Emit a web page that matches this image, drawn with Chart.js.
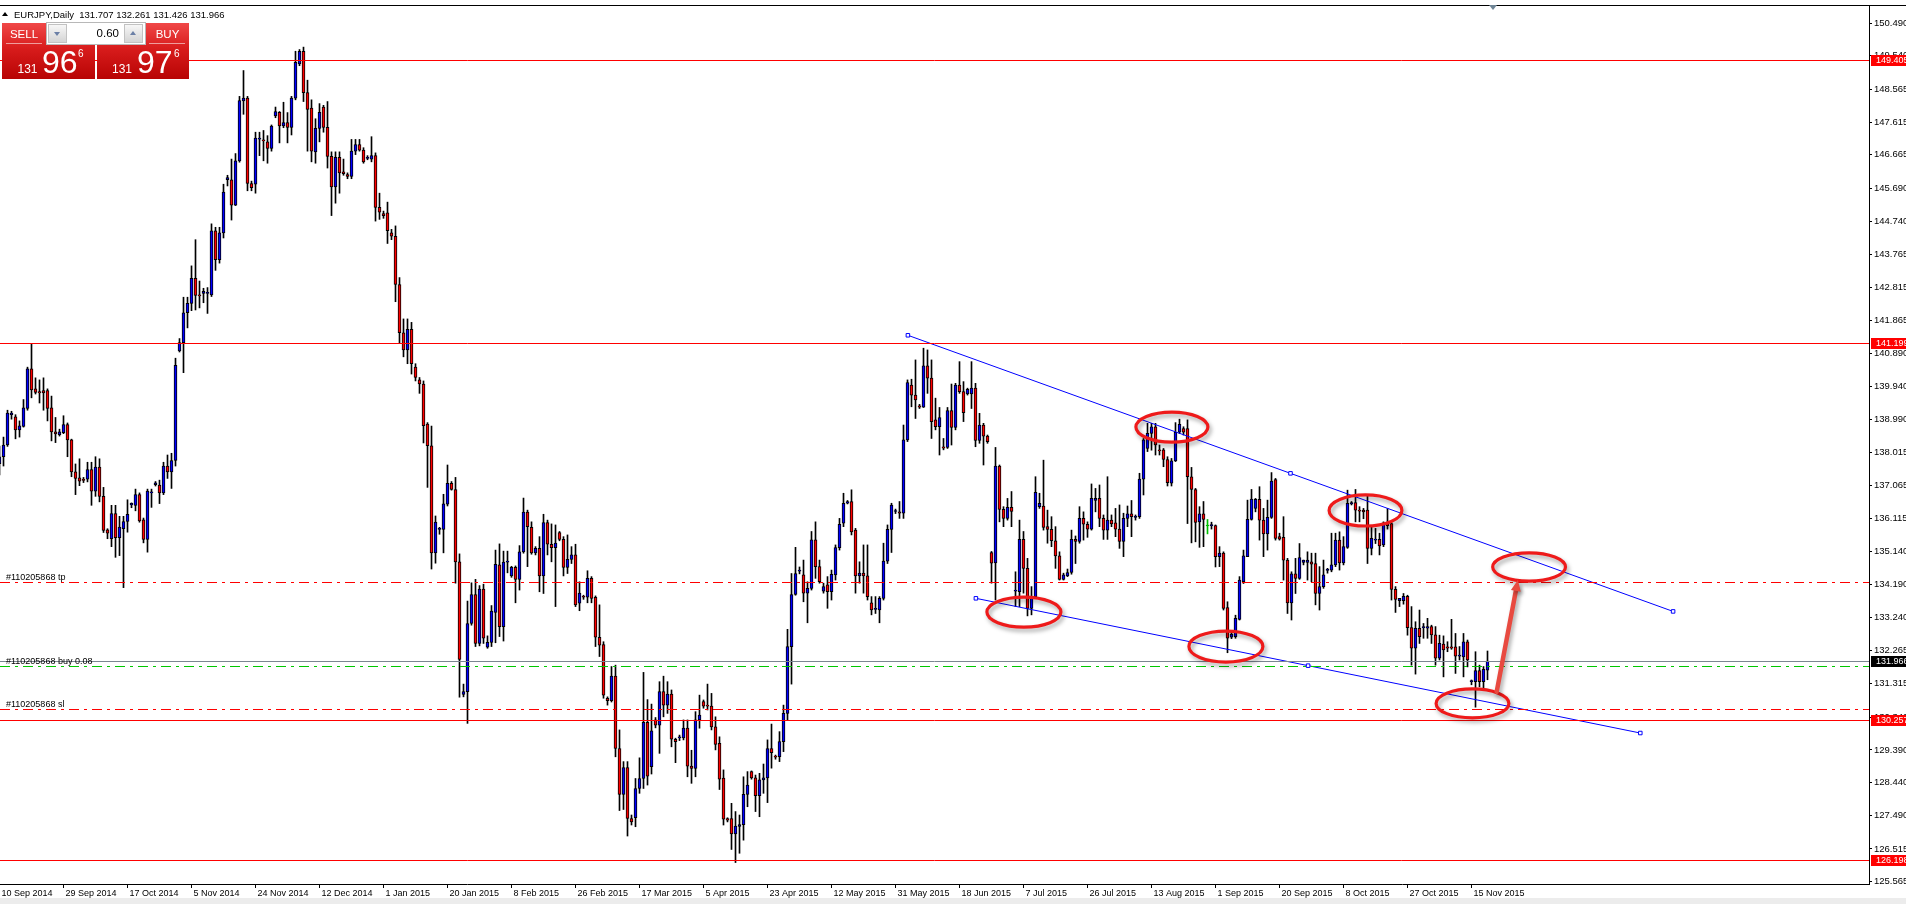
<!DOCTYPE html>
<html>
<head>
<meta charset="utf-8">
<title>EURJPY, Daily</title>
<script src="https://cdn.jsdelivr.net/npm/chart.js@4.4.1/dist/chart.umd.min.js"></script>
<style>
  html, body { margin:0; padding:0; background:#fff; }
  #wrap { position:relative; width:1906px; height:904px; overflow:hidden; font-family:'Liberation Sans', Arial, sans-serif; }
  #chart { position:absolute; left:0; top:0; }
  .abs { position:absolute; white-space:pre; }
  .tri-up { width:0; height:0; border-left:3px solid transparent; border-right:3px solid transparent; border-bottom:4px solid #000; }
  .btn { background:linear-gradient(#f7f7f7,#d4d4d4); border:1px solid #c2c2c2; box-sizing:border-box; }
  .box { background:linear-gradient(#f04848 0%, #d81c1c 45%, #b80404 100%); }
  .w { color:#fff; }
</style>
</head>
<body>
<div id="wrap">
  <canvas id="chart" width="1906" height="904"></canvas>

  <!-- header -->
  <div class="abs tri-up" style="left:2px;top:12px;"></div>
  <div class="abs" style="left:14px;top:8.5px;font-size:9.5px;line-height:11px;color:#000;">EURJPY,Daily  131.707 132.261 131.426 131.966</div>

  <!-- one-click trading panel -->
  <div class="abs box" style="left:2px;top:23px;width:93px;height:56px;"></div>
  <div class="abs box" style="left:97px;top:23px;width:92px;height:56px;"></div>
  <div class="abs w" style="left:2px;top:27.5px;width:44px;text-align:center;font-size:11.5px;line-height:12px;">SELL</div>
  <div class="abs w" style="left:146px;top:27.5px;width:43px;text-align:center;font-size:11.5px;line-height:12px;">BUY</div>
  <div class="abs" style="left:6px;top:43px;width:36px;height:1px;background:rgba(255,255,255,0.55);"></div>
  <div class="abs" style="left:149px;top:43px;width:36px;height:1px;background:rgba(255,255,255,0.55);"></div>
  <div class="abs" style="left:46px;top:22px;width:100px;height:23px;background:#fff;border:1px solid #b8b8b8;box-sizing:border-box;"></div>
  <div class="abs btn" style="left:48px;top:24px;width:19px;height:19px;"></div>
  <div class="abs" style="left:54px;top:32px;width:0;height:0;border-left:3.5px solid transparent;border-right:3.5px solid transparent;border-top:4px solid #6b7fa6;"></div>
  <div class="abs btn" style="left:124px;top:24px;width:19px;height:19px;"></div>
  <div class="abs" style="left:130px;top:31px;width:0;height:0;border-left:3.5px solid transparent;border-right:3.5px solid transparent;border-bottom:4px solid #6b7fa6;"></div>
  <div class="abs" style="left:80px;top:26.5px;width:39px;text-align:right;font-size:11.5px;line-height:12px;color:#000;">0.60</div>

  <div class="abs w" style="left:17.5px;top:62.8px;font-size:12px;line-height:12px;">131</div>
  <div class="abs w" style="left:42px;top:45.5px;font-size:32px;line-height:32px;">96</div>
  <div class="abs w" style="left:78px;top:48.5px;font-size:10px;line-height:10px;">6</div>
  <div class="abs w" style="left:112px;top:62.8px;font-size:12px;line-height:12px;">131</div>
  <div class="abs w" style="left:137px;top:45.5px;font-size:32px;line-height:32px;">97</div>
  <div class="abs w" style="left:174px;top:48.5px;font-size:10px;line-height:10px;">6</div>

  <!-- chart shift marker -->
  <div class="abs" style="left:1489px;top:5px;width:0;height:0;border-left:4.5px solid transparent;border-right:4.5px solid transparent;border-top:5px solid #6f8596;"></div>
  <!-- bottom strip -->
  <div class="abs" style="left:0;top:898px;width:1906px;height:6px;background:#ececec;"></div>
</div>

<script>
// ---------------- data ----------------
const dateLabels = ['10 Sep 2014','29 Sep 2014','17 Oct 2014','5 Nov 2014','24 Nov 2014','12 Dec 2014',
  '1 Jan 2015','20 Jan 2015','8 Feb 2015','26 Feb 2015','17 Mar 2015','5 Apr 2015','23 Apr 2015',
  '12 May 2015','31 May 2015','18 Jun 2015','7 Jul 2015','26 Jul 2015','13 Aug 2015','1 Sep 2015',
  '20 Sep 2015','8 Oct 2015','27 Oct 2015','15 Nov 2015'];
const barsPerLabel = 16;

const openP = [
137.70,137.90,138.24,139.12,139.06,138.68,138.78,139.30,140.45,139.87,
139.79,139.82,139.82,139.32,138.62,138.54,138.60,138.83,138.39,137.46,
137.29,137.25,137.25,137.53,136.90,137.60,136.75,135.78,135.52,136.25,
135.55,135.81,136.02,136.50,136.49,136.80,136.07,135.50,136.85,137.09,
137.08,136.85,137.63,137.46,137.79,140.97,141.21,142.08,142.35,143.08,
142.60,142.64,142.64,142.60,144.46,143.62,144.40,145.94,145.94,145.20,
146.49,148.23,148.31,145.83,145.81,147.12,147.10,147.04,146.85,147.79,
147.90,147.50,147.60,147.46,148.31,149.30,149.67,148.47,148.02,146.75,
147.43,148.05,147.46,146.62,145.73,146.59,146.17,146.09,146.04,146.77,
146.96,146.80,146.56,146.54,146.64,145.14,144.96,144.98,144.40,144.30,
142.90,141.50,141.00,141.60,140.50,140.13,140.01,138.85,138.22,135.11,
135.79,135.79,136.52,137.13,136.95,134.85,131.00,131.08,133.06,133.90,
132.48,134.06,132.37,132.51,133.38,134.76,132.97,134.84,134.44,134.69,
134.34,135.14,136.29,135.85,135.11,135.24,134.44,135.99,135.36,135.26,
135.70,135.50,134.69,134.92,135.05,133.65,133.84,133.82,134.37,133.82,
132.66,132.45,130.89,130.82,131.53,129.43,128.10,128.88,127.40,127.42,
128.27,128.56,130.19,128.90,130.26,130.11,131.08,130.69,131.01,129.70,
129.74,129.74,130.02,128.92,128.85,130.26,130.79,130.69,130.66,130.06,
129.58,128.57,127.40,127.40,126.95,127.17,127.22,128.10,128.76,128.58,
128.06,128.52,128.58,129.43,129.20,129.19,129.63,130.45,132.39,133.90,
134.58,134.47,133.94,134.08,135.49,134.71,134.00,134.18,133.98,134.47,
135.26,135.97,136.55,136.60,135.77,134.44,134.52,134.44,133.66,133.47,
133.45,133.79,134.87,135.79,136.31,136.30,136.26,138.39,139.98,139.69,
139.38,139.34,140.54,140.18,138.97,138.77,138.19,138.17,139.24,138.75,
139.98,139.79,139.72,139.72,139.89,138.37,138.82,138.50,135.12,134.82,
137.63,136.37,136.11,136.43,134.00,133.98,135.50,134.66,133.50,133.84,
136.45,136.47,135.87,135.79,135.46,135.02,134.34,134.44,134.54,135.50,
135.44,136.11,135.94,135.80,136.63,136.69,136.11,135.77,136.06,135.98,
135.80,135.44,136.11,136.24,136.14,136.16,137.25,138.14,138.58,138.77,
138.10,138.10,137.82,137.13,137.78,138.61,138.72,138.72,137.32,136.95,
136.01,136.24,135.89,135.90,135.90,135.00,135.10,133.52,132.66,132.68,
133.18,134.27,135.00,136.08,136.40,136.66,136.06,135.66,136.14,137.24,
135.58,135.56,134.90,133.66,134.50,134.37,134.83,134.83,134.85,134.80,
133.93,134.13,134.60,134.61,134.76,135.48,134.82,135.27,136.53,136.57,
136.35,136.35,136.35,135.24,135.48,135.50,135.34,136.00,135.96,134.05,
133.72,133.72,133.85,132.94,132.34,132.92,132.94,132.92,132.97,132.73,
132.05,132.46,132.38,132.38,132.38,132.11,132.09,132.53,131.37,131.37,
131.69,131.37,131.707];

const highP = [
138.21,138.47,139.25,139.22,139.12,138.94,139.56,140.50,141.18,140.19,
140.13,140.19,139.87,139.66,139.04,138.70,139.09,138.88,138.41,137.69,
137.84,137.30,137.74,137.74,137.90,137.84,137.01,135.81,136.49,136.49,
136.17,136.17,136.65,136.56,136.96,136.85,136.12,136.96,136.96,137.18,
137.22,137.74,137.95,138.00,140.76,141.33,142.53,142.53,143.44,144.20,
143.00,142.79,142.81,144.66,144.56,144.56,145.81,146.07,146.54,146.70,
148.36,149.11,148.36,145.90,147.32,147.32,147.37,147.22,147.53,148.05,
147.92,148.19,147.89,148.36,149.67,149.72,149.79,148.83,148.26,147.71,
148.15,148.10,148.21,146.75,146.75,146.75,146.54,146.14,147.11,147.11,
147.11,146.87,146.64,147.19,146.72,145.55,145.03,145.29,144.50,144.60,
143.10,141.90,141.90,141.80,140.60,140.20,140.10,138.89,138.79,136.18,
135.85,136.81,137.66,137.18,137.30,135.08,131.30,133.71,134.24,134.34,
134.16,134.20,132.70,133.58,135.19,135.37,135.16,135.16,134.72,134.73,
135.32,136.70,136.35,136.01,135.29,135.58,136.23,136.06,135.95,135.92,
135.73,135.58,135.63,135.29,135.36,134.27,133.88,134.59,134.42,133.86,
133.60,132.53,130.93,131.81,131.85,129.97,129.05,129.05,127.50,128.56,
129.16,131.64,130.85,130.72,130.33,131.37,131.53,131.37,131.13,129.73,
129.82,130.26,130.26,129.38,130.50,130.98,130.84,131.30,131.03,130.35,
129.77,128.81,127.42,127.84,127.60,127.50,128.61,128.76,128.78,128.66,
128.71,128.98,129.68,130.14,129.24,129.92,130.69,132.89,134.51,135.27,
134.70,134.90,134.27,135.73,136.01,134.90,134.23,134.42,134.61,135.34,
136.11,136.84,136.63,136.94,135.82,134.85,135.34,135.34,133.84,133.84,
133.84,135.39,135.92,136.55,136.38,136.60,138.82,140.13,140.15,140.71,
139.42,141.05,141.00,140.71,139.60,139.33,138.43,139.33,140.01,140.03,
140.66,140.08,139.89,140.66,140.03,139.16,138.87,138.53,135.15,138.17,
137.66,136.45,136.69,136.89,134.56,136.06,135.73,134.95,134.13,137.32,
136.84,137.80,136.35,136.16,135.87,135.14,134.52,134.64,135.77,135.60,
136.45,136.30,136.01,137.11,136.98,137.08,136.21,137.32,136.21,136.40,
136.50,136.26,136.47,136.63,136.21,137.42,138.43,138.87,138.87,138.87,
138.24,138.14,137.90,137.85,138.89,138.99,138.77,138.97,137.59,136.98,
136.45,136.60,136.08,136.00,135.92,135.29,135.14,133.69,132.82,133.30,
134.42,135.19,136.64,136.95,136.69,137.03,136.40,136.64,137.44,137.27,
135.68,136.16,134.95,134.56,134.95,135.38,134.90,135.14,135.10,135.10,
134.71,134.90,134.66,135.68,135.68,135.72,135.58,136.93,136.60,136.95,
136.45,136.40,136.79,135.87,135.82,135.68,136.01,136.40,135.98,134.13,
133.79,133.93,133.88,133.55,133.11,133.45,133.06,133.21,133.01,132.97,
132.72,132.70,132.53,133.18,132.77,132.39,132.77,132.58,131.42,132.24,
131.85,131.81,132.261];

const lowP = [
137.37,137.63,138.20,138.99,138.42,138.47,138.76,139.25,139.61,139.72,
139.46,139.25,138.94,138.36,138.31,138.50,138.57,137.90,137.32,136.80,
137.06,137.15,137.17,136.49,136.75,136.59,135.70,135.52,135.29,134.98,
135.03,134.10,135.71,136.42,136.33,136.00,135.40,135.13,136.43,137.05,
136.54,136.80,137.27,136.98,137.63,140.94,140.34,141.64,142.14,142.16,
142.22,142.37,142.06,142.55,143.31,143.52,144.25,145.76,144.77,145.19,
146.45,147.84,145.62,145.62,145.55,146.64,146.49,146.42,146.77,147.74,
147.01,147.45,147.01,147.24,148.26,149.25,148.21,146.77,146.46,146.42,
147.04,147.32,146.28,144.90,145.26,145.55,146.07,145.97,145.97,146.67,
146.77,146.42,146.52,146.46,144.74,144.79,144.82,144.09,144.20,142.40,
141.20,140.80,140.60,140.30,140.10,139.74,138.30,137.01,134.64,134.81,
135.65,135.11,136.47,136.93,134.23,130.92,130.93,130.16,133.01,132.39,
132.41,132.48,132.34,132.39,132.50,132.68,132.55,134.53,134.40,133.66,
134.03,135.10,134.71,135.07,135.05,133.98,133.93,135.05,134.85,133.55,
135.46,134.44,134.51,134.80,133.55,133.43,133.76,133.66,133.66,132.39,
132.10,130.89,130.69,130.78,129.19,127.63,127.66,126.89,127.21,127.16,
128.13,128.27,128.37,128.69,130.03,129.29,130.35,130.45,129.48,129.02,
129.66,129.68,128.61,128.42,128.61,130.02,130.60,130.55,129.97,129.39,
128.24,127.21,127.30,126.50,126.12,126.39,126.77,127.74,128.54,127.60,
127.45,128.13,127.86,128.86,129.12,129.05,129.34,130.26,131.30,133.88,
134.50,133.69,133.08,134.03,134.37,134.23,133.94,133.50,133.74,134.32,
135.19,135.87,136.53,135.63,133.94,134.23,133.94,133.74,133.31,133.35,
133.08,133.74,134.80,135.12,136.25,136.11,136.11,138.34,139.35,139.01,
139.30,139.33,139.74,138.43,138.68,137.95,138.10,138.14,138.24,138.68,
139.74,138.92,139.69,139.30,138.19,138.29,137.66,138.29,134.23,133.74,
136.01,135.87,136.06,135.87,133.55,133.55,133.94,133.28,133.31,133.80,
136.40,135.77,135.39,135.29,134.66,134.32,134.32,134.42,134.49,134.80,
135.39,135.48,135.56,135.77,136.30,135.87,135.50,135.50,135.87,135.58,
135.24,135.00,135.87,135.58,136.06,136.11,136.79,138.05,138.09,137.95,
137.95,137.61,137.05,137.05,137.76,138.57,138.53,135.96,135.40,135.43,
135.27,135.29,135.66,135.80,134.70,134.71,133.45,132.21,132.62,132.63,
133.16,134.22,135.00,136.06,136.30,135.48,135.00,135.19,136.11,135.48,
135.48,134.32,133.35,133.16,133.93,134.34,134.76,134.32,134.27,133.60,
133.45,134.08,134.52,134.56,134.71,134.61,134.76,135.24,136.50,136.01,
136.01,136.10,134.80,135.05,135.38,135.05,135.29,135.80,133.74,133.38,
133.55,133.62,132.72,131.85,131.59,132.48,132.63,132.63,132.48,131.85,
132.00,131.51,132.24,132.31,131.61,132.00,131.51,131.80,131.28,130.63,
131.22,131.18,131.426];

const closeP = [
137.90,138.24,139.17,139.17,138.68,138.80,139.32,140.45,139.84,139.77,
139.75,139.75,139.30,138.62,138.56,138.62,138.83,138.39,137.46,137.27,
137.19,137.21,137.53,136.90,137.60,136.75,135.76,135.68,136.25,135.55,
135.86,136.02,136.23,136.55,136.80,136.04,135.50,136.90,136.88,137.14,
136.85,137.63,137.46,137.79,140.55,141.21,142.08,142.35,143.08,142.58,
142.57,142.70,142.67,144.46,143.62,144.40,145.58,146.00,145.20,146.49,
148.24,148.31,145.83,145.71,147.15,147.15,147.07,146.85,147.50,147.92,
147.50,147.60,147.46,148.31,149.35,149.67,148.47,147.98,146.77,147.43,
147.90,147.46,146.62,145.73,146.59,146.14,146.12,146.04,146.77,146.96,
146.80,146.46,146.58,146.64,145.14,145.00,144.90,144.46,144.30,142.90,
141.50,141.00,141.60,140.60,140.20,140.01,138.80,138.22,135.11,136.00,
135.80,136.53,137.13,136.95,134.85,132.02,131.08,133.06,133.90,132.48,
134.06,132.63,132.51,133.42,134.78,132.97,134.84,134.86,134.69,134.34,
135.14,136.29,135.87,135.11,135.24,134.44,135.99,135.36,135.26,135.39,
135.50,134.69,134.92,135.05,133.60,133.94,133.82,134.37,133.79,132.66,
132.43,130.98,130.82,131.53,129.43,128.10,128.88,127.40,127.30,128.27,
128.56,130.19,128.63,129.94,130.11,131.08,130.69,131.01,129.70,129.63,
129.76,130.02,128.92,128.85,130.26,130.40,130.66,130.66,130.06,129.55,
128.54,127.38,127.35,126.95,127.18,127.22,128.10,128.37,128.58,128.06,
128.52,128.58,129.43,129.31,129.18,129.63,130.45,132.39,133.90,134.51,
134.60,133.94,134.08,135.49,134.71,134.27,134.13,133.98,134.49,135.26,
135.94,136.55,136.60,135.72,134.44,134.52,134.44,133.84,133.45,133.49,
133.79,134.87,135.79,136.50,136.33,136.26,138.39,140.05,139.69,139.55,
139.34,140.54,140.18,138.92,138.77,139.04,138.15,139.24,138.75,139.98,
139.79,139.18,139.86,139.89,138.37,138.82,138.50,138.34,134.81,137.63,
136.37,136.11,136.43,136.31,134.02,135.50,134.66,133.50,133.84,136.87,
136.55,135.85,135.79,135.46,135.02,134.34,134.47,134.54,135.50,135.44,
136.11,135.94,135.80,136.69,136.69,136.11,135.77,136.06,135.95,135.80,
135.44,136.11,136.24,136.16,136.16,137.25,138.39,138.58,138.77,138.24,
138.07,137.82,137.15,137.78,138.61,138.84,138.61,137.32,136.95,135.99,
136.24,136.08,135.89,135.93,135.00,135.10,133.50,132.63,132.75,133.21,
134.32,135.02,136.08,136.67,136.66,136.06,135.66,136.14,137.19,135.53,
135.51,134.90,133.66,134.50,134.37,134.97,134.90,134.90,134.78,133.93,
134.13,134.47,134.63,134.76,135.48,134.82,135.29,136.55,136.57,136.35,
136.32,136.30,135.24,135.53,135.50,135.31,135.98,135.90,134.05,133.76,
133.79,133.85,132.94,132.34,132.92,132.68,132.96,132.97,132.73,132.05,
132.48,132.29,132.34,132.34,132.11,132.12,132.53,132.00,131.40,131.69,
131.37,131.73,131.966];

const priceTicks = [150.490,149.540,148.565,147.615,146.665,145.690,144.740,143.765,142.815,141.865,
  140.890,139.940,138.990,138.015,137.065,136.115,135.140,134.190,133.240,132.265,131.315,130.340,
  129.390,128.440,127.490,126.515,125.565];

const levelLines = [149.405, 141.199, 130.257, 126.198];
const tradeLevels = [134.27, 131.82, 130.58];
const tradeTexts = ['#110205868 tp', '#110205868 buy 0.08', '#110205868 sl'];
const tradeColors = ['#ff0000', '#00c800', '#ff0000'];
const bidPrice = 131.966;
const priceTagValues = [149.405, 141.199, 131.966, 130.257, 126.198];
const priceTagColors = ['#ff0000', '#ff0000', '#000000', '#ff0000', '#ff0000'];

const upperTrend = [[227.1, 141.425], [418.4, 133.41]];
const lowerTrend = [[244.1, 133.79], [410.2, 129.88]];
const ellipseCenters = [[293.1,138.76],[341.5,136.34],[382.4,134.70],[256.1,133.39],[306.6,132.39],[368.25,130.74]];
const ellipseRadii = [[9.0,0.435],[9.1,0.45],[9.1,0.41],[9.25,0.435],[9.25,0.45],[9.1,0.42]];
const arrowFrom = [374.3, 131.08];
const arrowTo = [379.6, 134.32];

// ---------------- chart ----------------
const FONT = "'Liberation Sans', Arial, sans-serif";
const X_MIN = 0.125, X_MAX = 467.375;
const Y_MIN = 125.4975, Y_MAX = 151.0125;

const barIdx = openP.map((_, i) => i);
const isDoji = i => openP[i] === closeP[i];
const wickData = barIdx.map(i => ({ x: i, y: [lowP[i], highP[i]] }));
const bodyData = barIdx.map(i => ({ x: i, y: [openP[i], closeP[i]] }));
const wickColors = barIdx.map(i => isDoji(i) ? '#00c000' : '#000000');
const bodyFill = barIdx.map(i => isDoji(i) ? '#00c000' : (closeP[i] > openP[i] ? '#0000ff' : '#ff0000'));
const bodyBorder = barIdx.map(i => isDoji(i) ? '#00c000' : '#000000');

const trendPoints = seg => {
  const mid = [(seg[0][0] + seg[1][0]) / 2, (seg[0][1] + seg[1][1]) / 2];
  return [seg[0], mid, seg[1]].map(p => ({ x: p[0], y: p[1] }));
};

const trendStyle = {
  type: 'line', borderColor: '#0000ff', borderWidth: 1, tension: 0,
  pointStyle: 'rect', pointRadius: 2.5, pointBackgroundColor: '#ffffff',
  pointBorderColor: '#0000ff', pointBorderWidth: 1, order: 1
};

const overlay = {
  id: 'overlay',
  afterDatasetsDraw(chart) {
    const { ctx, chartArea: a, scales: { x, y } } = chart;
    const py = v => Math.round(y.getPixelForValue(v)) + 0.5;
    ctx.save();
    ctx.beginPath();
    ctx.rect(a.left, a.top, a.right - a.left, a.bottom - a.top);
    ctx.clip();

    ctx.lineWidth = 1;
    ctx.strokeStyle = '#ff0000';
    levelLines.forEach(v => {
      ctx.beginPath(); ctx.moveTo(a.left, py(v)); ctx.lineTo(a.right, py(v)); ctx.stroke();
    });
    ctx.strokeStyle = '#7b8591';
    ctx.beginPath(); ctx.moveTo(a.left, py(bidPrice)); ctx.lineTo(a.right, py(bidPrice)); ctx.stroke();
    ctx.setLineDash([10, 5, 3, 5]);
    tradeLevels.forEach((v, k) => {
      ctx.strokeStyle = tradeColors[k];
      ctx.beginPath(); ctx.moveTo(a.left, py(v)); ctx.lineTo(a.right, py(v)); ctx.stroke();
    });
    ctx.setLineDash([]);
    ctx.fillStyle = '#000';
    ctx.font = '9px ' + FONT;
    ctx.textBaseline = 'alphabetic';
    ctx.textAlign = 'left';
    tradeLevels.forEach((v, k) => {
      ctx.fillText(tradeTexts[k], a.left + 6, py(v) - 3);
    });

    const pxPerBar = x.getPixelForValue(1) - x.getPixelForValue(0);
    const pxPerPrice = y.getPixelForValue(0) - y.getPixelForValue(1);
    ctx.shadowColor = 'rgba(0,0,0,0.35)';
    ctx.shadowBlur = 4;
    ctx.shadowOffsetX = 2;
    ctx.shadowOffsetY = 3;
    ctx.strokeStyle = '#ee1a1a';
    ctx.lineWidth = 3.2;
    ellipseCenters.forEach((c, k) => {
      ctx.beginPath();
      ctx.ellipse(x.getPixelForValue(c[0]), y.getPixelForValue(c[1]),
        ellipseRadii[k][0] * pxPerBar, ellipseRadii[k][1] * pxPerPrice, 0, 0, Math.PI * 2);
      ctx.stroke();
    });

    const x1 = x.getPixelForValue(arrowFrom[0]), y1 = y.getPixelForValue(arrowFrom[1]);
    const x2 = x.getPixelForValue(arrowTo[0]), y2 = y.getPixelForValue(arrowTo[1]);
    const ang = Math.atan2(y2 - y1, x2 - x1);
    ctx.strokeStyle = '#e84a40';
    ctx.fillStyle = '#e84a40';
    ctx.lineWidth = 4.5;
    ctx.lineCap = 'round';
    ctx.beginPath(); ctx.moveTo(x1, y1); ctx.lineTo(x2 - 6 * Math.cos(ang), y2 - 6 * Math.sin(ang)); ctx.stroke();
    ctx.beginPath();
    ctx.moveTo(x2, y2);
    ctx.lineTo(x2 - 11 * Math.cos(ang) + 5 * Math.sin(ang), y2 - 11 * Math.sin(ang) - 5 * Math.cos(ang));
    ctx.lineTo(x2 - 11 * Math.cos(ang) - 5 * Math.sin(ang), y2 - 11 * Math.sin(ang) + 5 * Math.cos(ang));
    ctx.closePath(); ctx.fill();
    ctx.restore();
  },
  afterDraw(chart) {
    const { ctx, chartArea: a, scales: { y } } = chart;
    ctx.save();
    ctx.fillStyle = '#000';
    ctx.fillRect(0, a.top, chart.width, 1);
    ctx.font = '9px ' + FONT;
    ctx.textBaseline = 'middle';
    ctx.textAlign = 'left';
    priceTagValues.forEach((v, k) => {
      const yy = Math.round(y.getPixelForValue(v));
      ctx.fillStyle = priceTagColors[k];
      ctx.fillRect(a.right + 2, yy - 5, chart.width - a.right - 2, 11);
      ctx.fillStyle = '#fff';
      ctx.fillText(v.toFixed(3), a.right + 7, yy + 0.5);
    });
    ctx.restore();
  }
};

new Chart(document.getElementById('chart'), {
  type: 'bar',
  data: {
    datasets: [
      { type: 'bar', data: wickData, backgroundColor: wickColors, borderWidth: 0,
        barThickness: 1, grouped: false, order: 3 },
      { type: 'bar', data: bodyData, backgroundColor: bodyFill, borderColor: bodyBorder,
        borderWidth: 1, borderSkipped: false, minBarLength: 1, barThickness: 3, grouped: false, order: 2 },
      Object.assign({ data: trendPoints(upperTrend) }, trendStyle),
      Object.assign({ data: trendPoints(lowerTrend) }, trendStyle)
    ]
  },
  options: {
    responsive: false,
    devicePixelRatio: 1,
    animation: false,
    events: [],
    layout: { autoPadding: false, padding: { left: 0, right: 0, top: 5, bottom: 0 } },
    plugins: { legend: { display: false }, tooltip: { enabled: false } },
    scales: {
      x: {
        type: 'linear', position: 'bottom', min: X_MIN, max: X_MAX, offset: false,
        afterBuildTicks: s => { s.ticks = dateLabels.map((_, k) => ({ value: k * barsPerLabel })); },
        afterFit: s => { s.height = 20; s.paddingLeft = 0; s.paddingRight = 0; },
        ticks: {
          autoSkip: false, maxRotation: 0, minRotation: 0, align: 'start', labelOffset: 2, padding: 0,
          color: '#000', font: { family: FONT, size: 9 },
          callback: v => dateLabels[Math.round(v / barsPerLabel)] || ''
        },
        grid: { display: true, drawOnChartArea: false, drawTicks: true, tickLength: 4, color: '#000', offset: false },
        border: { display: true, color: '#000', width: 1 }
      },
      y: {
        type: 'linear', position: 'right', min: Y_MIN, max: Y_MAX,
        afterBuildTicks: s => { s.ticks = priceTicks.map(v => ({ value: v })); },
        afterFit: s => { s.width = 37; s.paddingTop = 0; s.paddingBottom = 0; },
        ticks: {
          autoSkip: false, padding: 2, color: '#000', font: { family: FONT, size: 9.5 },
          callback: v => v.toFixed(3)
        },
        grid: { display: true, drawOnChartArea: false, drawTicks: true, tickLength: 3, color: '#000' },
        border: { display: true, color: '#000', width: 1 }
      }
    }
  },
  plugins: [overlay]
});
</script>
</body>
</html>
